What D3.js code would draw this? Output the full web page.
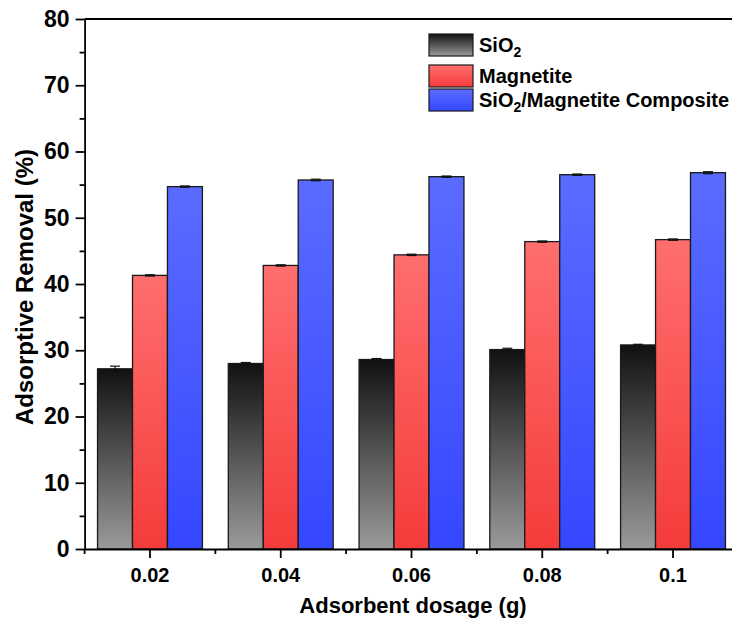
<!DOCTYPE html>
<html>
<head>
  <meta charset="utf-8">
  <title>Adsorptive removal vs adsorbent dosage</title>
  <script src="https://d3js.org/d3.v7.min.js"></script>
  <style>
    body { margin: 0; background: #fff; }
    svg { display: block; font-family: "Liberation Sans", Arial, sans-serif; font-weight: bold; }
    .axis path, .axis line { stroke: #000; stroke-width: 1.8; }
    .axis text { fill: #000; font-weight: bold; }
    .y-axis text { font-size: 23px; }
    .x-axis text { font-size: 20px; }
  </style>
</head>
<body>
  <div id="chart"></div>
  <script>
    // values
    var dosages = ['0.02', '0.04', '0.06', '0.08', '0.1'];
    var series = ['SiO2', 'Magnetite', 'Composite'];
    var sio2 = [27.2, 28.0, 28.6, 30.1, 30.8];
    var magnetite = [41.3, 42.8, 44.4, 46.4, 46.7];
    var composite = [54.7, 55.7, 56.2, 56.5, 56.8];
    var sio2Err = [0.4, 0.15, 0.15, 0.2, 0.1];
    var magnetiteErr = [0.1, 0.1, 0.1, 0.1, 0.1];
    var compositeErr = [0.1, 0.12, 0.1, 0.1, 0.15];
    var yTicks = [0, 10, 20, 30, 40, 50, 60, 70, 80];
    var yMinor = [5, 15, 25, 35, 45, 55, 65, 75];

    var values = { SiO2: sio2, Magnetite: magnetite, Composite: composite };
    var errors = { SiO2: sio2Err, Magnetite: magnetiteErr, Composite: compositeErr };

    var width = 732, height = 621,
        plotLeft = 84.6, plotRight = 738.4, plotTop = 19, plotBottom = 549;

    var svg = d3.select('#chart').append('svg')
        .attr('width', width)
        .attr('height', height);

    var defs = svg.append('defs');
    var grads = {
      SiO2: ['#111111', '#9a9a9a'],
      Magnetite: ['#ff6e6e', '#f53b3b'],
      Composite: ['#5a6cff', '#3547ff']
    };
    series.forEach(function(s) {
      var g = defs.append('linearGradient')
          .attr('id', 'grad-' + s)
          .attr('x1', 0).attr('y1', 0).attr('x2', 0).attr('y2', 1);
      g.append('stop').attr('offset', '0%').attr('stop-color', grads[s][0]);
      g.append('stop').attr('offset', '100%').attr('stop-color', grads[s][1]);
    });

    var x0 = d3.scaleBand().domain(dosages).range([plotLeft, plotRight]).padding(0);
    var x1 = d3.scaleBand().domain(series).range([0, x0.bandwidth()])
        .paddingInner(0).paddingOuter(0.37);
    var y = d3.scaleLinear().domain([0, 80]).range([plotBottom, plotTop]);

    function rows(d, i) {
      return series.map(function(s) { return { s: s, v: values[s][i], e: errors[s][i] }; });
    }

    // bars
    var groups = svg.append('g').selectAll('g')
        .data(dosages)
        .enter().append('g')
          .attr('transform', function(d) { return 'translate(' + x0(d) + ',0)'; });

    groups.selectAll('rect')
        .data(rows)
        .enter().append('rect')
          .attr('x', function(d) { return x1(d.s); })
          .attr('y', function(d) { return y(d.v); })
          .attr('width', x1.bandwidth())
          .attr('height', function(d) { return y(0) - y(d.v); })
          .attr('fill', function(d) { return 'url(#grad-' + d.s + ')'; })
          .attr('stroke', '#1a1a1a')
          .attr('stroke-width', 1.3);

    // error bars
    var err = groups.selectAll('g.err')
        .data(rows)
        .enter().append('g').attr('class', 'err')
          .attr('stroke', '#111').attr('stroke-width', 1.2);
    err.append('line')
        .attr('x1', function(d) { return x1(d.s) + x1.bandwidth() / 2; })
        .attr('x2', function(d) { return x1(d.s) + x1.bandwidth() / 2; })
        .attr('y1', function(d) { return y(d.v - d.e); })
        .attr('y2', function(d) { return y(d.v + d.e); });
    [1, -1].forEach(function(sign) {
      err.append('line')
          .attr('x1', function(d) { return x1(d.s) + x1.bandwidth() / 2 - 5; })
          .attr('x2', function(d) { return x1(d.s) + x1.bandwidth() / 2 + 5; })
          .attr('y1', function(d) { return y(d.v + sign * d.e); })
          .attr('y2', function(d) { return y(d.v + sign * d.e); });
    });

    // y axis
    svg.append('g')
        .attr('class', 'axis y-axis')
        .attr('transform', 'translate(' + plotLeft + ',0)')
        .call(d3.axisLeft(y).tickValues(yTicks).tickSize(9).tickSizeOuter(0).tickPadding(6));
    svg.append('g')
        .attr('class', 'axis')
        .attr('transform', 'translate(' + plotLeft + ',0)')
        .call(d3.axisLeft(y).tickValues(yMinor).tickSize(5).tickFormat('').tickSizeOuter(0))
        .select('.domain').remove();

    // x axis
    svg.append('g')
        .attr('class', 'axis x-axis')
        .attr('transform', 'translate(0,' + plotBottom + ')')
        .call(d3.axisBottom(x0).tickSize(9).tickSizeOuter(0).tickPadding(10));

    // minor x ticks at the band edges
    svg.append('g').selectAll('line')
        .data(dosages)
        .enter().append('line')
          .attr('x1', function(d) { return x0(d); })
          .attr('x2', function(d) { return x0(d); })
          .attr('y1', plotBottom)
          .attr('y2', plotBottom + 5)
          .attr('stroke', '#000')
          .attr('stroke-width', 1.8);

    // top frame line
    svg.append('line')
        .attr('x1', plotLeft).attr('x2', plotRight)
        .attr('y1', plotTop).attr('y2', plotTop)
        .attr('stroke', '#000').attr('stroke-width', 1.8);

    // axis titles
    svg.append('text')
        .attr('x', 413).attr('y', 613)
        .attr('text-anchor', 'middle')
        .style('font-size', '22px')
        .text('Adsorbent dosage (g)');

    svg.append('text')
        .attr('transform', 'translate(33,287) rotate(-90)')
        .attr('text-anchor', 'middle')
        .style('font-size', '24px')
        .text('Adsorptive Removal (%)');

    // legend
    var legendY = [34, 65, 89];
    var legend = svg.append('g').selectAll('g')
        .data(series)
        .enter().append('g')
          .attr('transform', function(d, i) { return 'translate(429,' + legendY[i] + ')'; });

    legend.append('rect')
        .attr('width', 44)
        .attr('height', 22)
        .attr('fill', function(d) { return 'url(#grad-' + d + ')'; })
        .attr('stroke', '#1a1a1a')
        .attr('stroke-width', 1.2);

    var lt = legend.append('text')
        .attr('x', 50)
        .attr('y', 18)
        .style('font-size', '20px');

    lt.each(function(d) {
      var t = d3.select(this);
      if (d === 'Magnetite') {
        t.text('Magnetite');
        return;
      }
      t.append('tspan').text('SiO');
      t.append('tspan').attr('dy', 5).style('font-size', '14px').text('2');
      if (d === 'Composite') {
        t.append('tspan').attr('dy', -5).text('/Magnetite Composite');
      }
    });
  </script>
</body>
</html>
